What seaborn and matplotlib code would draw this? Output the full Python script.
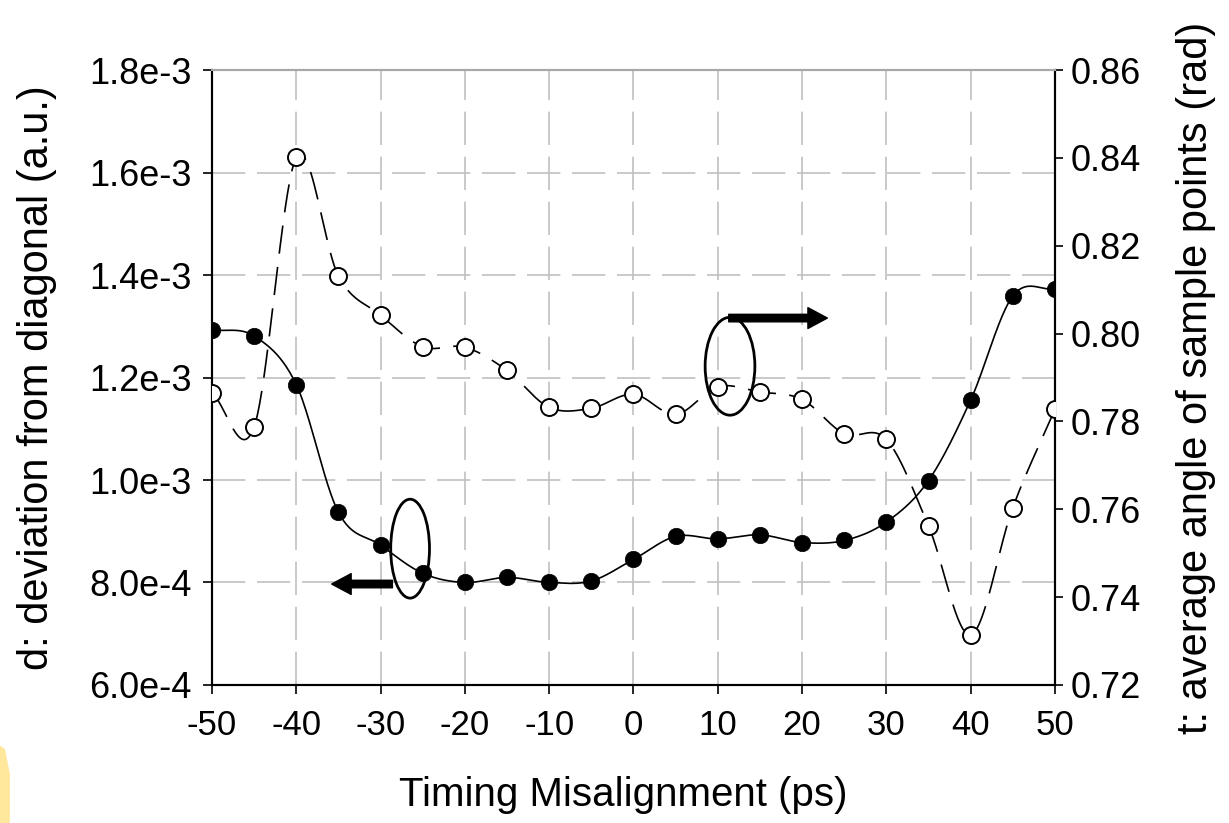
import numpy as np
import pandas as pd
import matplotlib
matplotlib.use("Agg")
import matplotlib.pyplot as plt
import seaborn as sns
from matplotlib.patches import Ellipse, Polygon
from matplotlib.ticker import FuncFormatter

# timing misalignment (ps)
timing = [-50, -45, -40, -35, -30, -25, -20, -15, -10, -5, 0,
          5, 10, 15, 20, 25, 30, 35, 40, 45, 50]
# d: deviation from diagonal (left axis, filled circles)
deviation = [1.293e-3, 1.281e-3, 1.186e-3, 0.937e-3, 0.873e-3, 0.818e-3,
             0.800e-3, 0.810e-3, 0.800e-3, 0.803e-3, 0.845e-3,
             0.890e-3, 0.885e-3, 0.893e-3, 0.878e-3, 0.882e-3,
             0.918e-3, 0.999e-3, 1.156e-3, 1.359e-3, 1.373e-3]
# t: average angle of sample points (right axis, open circles)
angle = [0.7865, 0.7788, 0.8401, 0.8131, 0.8042, 0.7970, 0.7969, 0.7916,
         0.7832, 0.7830, 0.7862, 0.7816, 0.7879, 0.7867, 0.7850, 0.7772,
         0.7759, 0.7562, 0.7314, 0.7604, 0.7828]

x_ticks = list(range(-50, 51, 10))
left_ticks = [6e-4, 8e-4, 1.0e-3, 1.2e-3, 1.4e-3, 1.6e-3, 1.8e-3]
right_ticks = [0.72, 0.74, 0.76, 0.78, 0.80, 0.82, 0.84, 0.86]


def smooth(x, y, n=40):
    # Excel-like smoothed line (Catmull-Rom through the points)
    x = np.asarray(x, float)
    y = np.asarray(y, float)
    xp = np.r_[2 * x[0] - x[1], x, 2 * x[-1] - x[-2]]
    yp = np.r_[2 * y[0] - y[1], y, 2 * y[-1] - y[-2]]
    t = np.linspace(0, 1, n)
    xs, ys = [], []
    for i in range(1, len(xp) - 2):
        for arr, out in ((xp, xs), (yp, ys)):
            p0, p1, p2, p3 = arr[i - 1], arr[i], arr[i + 1], arr[i + 2]
            out.extend(0.5 * (2 * p1 + (-p0 + p2) * t
                              + (2 * p0 - 5 * p1 + 4 * p2 - p3) * t ** 2
                              + (-p0 + 3 * p1 - 3 * p2 + p3) * t ** 3))
    return np.array(xs), np.array(ys)


def sci_fmt(v, pos):
    mant, exp = f"{v:.1e}".split("e")
    return f"{mant}e{int(exp)}"


sns.set_style("white")
plt.rcParams['font.family'] = ['Liberation Sans', 'DejaVu Sans']
plt.rcParams['axes.unicode_minus'] = False
plt.rcParams['text.color'] = 'black'
plt.rcParams['axes.labelcolor'] = 'black'

fig = plt.figure(figsize=(12.29, 8.23), dpi=100)
ax = fig.add_axes([0.1725, 0.1677, 0.6859, 0.7472])
ax2 = ax.twinx()

df_d = pd.DataFrame({"timing": timing, "d": deviation})
df_t = pd.DataFrame({"timing": timing, "t": angle})

sx, sy = smooth(timing, deviation)
sns.lineplot(x=sx, y=sy, ax=ax, sort=False, estimator=None,
             color="black", lw=1.2, zorder=3)
sns.scatterplot(data=df_d, x="timing", y="d", ax=ax, s=140, color="black",
                edgecolor="black", linewidth=0.5, zorder=4)

tx, ty = smooth(timing, angle)
sns.lineplot(x=tx, y=ty, ax=ax2, sort=False, estimator=None,
             color="black", lw=1.2, zorder=3, linestyle=(0, (17, 8)))
sns.scatterplot(data=df_t, x="timing", y="t", ax=ax2, s=150, color="white",
                edgecolor="black", linewidth=1.4, zorder=4)

ax.set_xlim(-50, 50)
ax.set_ylim(6e-4, 1.8e-3)
ax2.set_ylim(0.72, 0.86)
ax.set_xticks(x_ticks)
ax.set_yticks(left_ticks)
ax2.set_yticks(right_ticks)
ax.yaxis.set_major_formatter(FuncFormatter(sci_fmt))
ax2.yaxis.set_major_formatter(FuncFormatter(lambda v, p: f"{v:.2f}"))

ax.grid(True, color="#c0c0c0", lw=1.2, linestyle=(0, (20, 7)))
ax2.grid(False)
ax.set_axisbelow(True)

for a in (ax, ax2):
    a.spines["top"].set_color("#a8a8a8")
    a.spines["top"].set_linewidth(1.5)
    for side in ("left", "right", "bottom"):
        a.spines[side].set_color("black")
        a.spines[side].set_linewidth(1.5)

ax.tick_params(axis="x", direction="out", length=6.5, width=1.2,
               labelsize=25, pad=11, bottom=True, colors="black")
ax.tick_params(axis="y", direction="out", length=6.5, width=1.2,
               labelsize=26, pad=8, left=True, colors="black")
ax2.tick_params(axis="y", direction="out", length=6, width=1.2,
                labelsize=26, pad=5, right=True, colors="black")

ax.set_xlabel("Timing Misalignment (ps)", fontsize=29, color="black")
ax.set_ylabel("d: deviation from diagonal (a.u.)", fontsize=30, color="black")
ax2.set_ylabel("t: average angle of sample points (rad)", fontsize=30,
               color="black")
ax.xaxis.set_label_coords(0.488, -0.148)
ax.yaxis.set_label_coords(-0.184, 0.5)
ax2.yaxis.set_label_coords(1.143, 0.5)

# annotation ellipses and arrows (left-axis data coordinates)
ax.add_patch(Ellipse((-26.5, 0.866e-3), 4.6, 1.93e-4, fill=False,
                     ec="black", lw=2, zorder=5))
ax.add_patch(Ellipse((11.45, 1.222e-3), 5.9, 1.91e-4, fill=False,
                     ec="black", lw=2, zorder=5))
arrow_style = "simple,head_length=0.7,head_width=0.75,tail_width=0.27"
ax.annotate("", xy=(-35.8, 0.797e-3), xytext=(-28.6, 0.797e-3),
            arrowprops=dict(arrowstyle=arrow_style, fc="black", ec="black",
                            mutation_scale=20, shrinkA=0, shrinkB=0),
            zorder=6)
ax.annotate("", xy=(23.0, 1.316e-3), xytext=(11.3, 1.316e-3),
            arrowprops=dict(arrowstyle=arrow_style, fc="black", ec="black",
                            mutation_scale=20, shrinkA=0, shrinkB=0),
            zorder=6)

# small yellow mark at the bottom-left edge
fig.patches.append(Polygon([[0, 0], [0, 0.094], [0.004, 0.09], [0.008, 0.06],
                            [0.008, 0]], closed=True, transform=fig.transFigure,
                           fc="#ffe79c", ec="none"))

fig.savefig("out.png", dpi=100)
